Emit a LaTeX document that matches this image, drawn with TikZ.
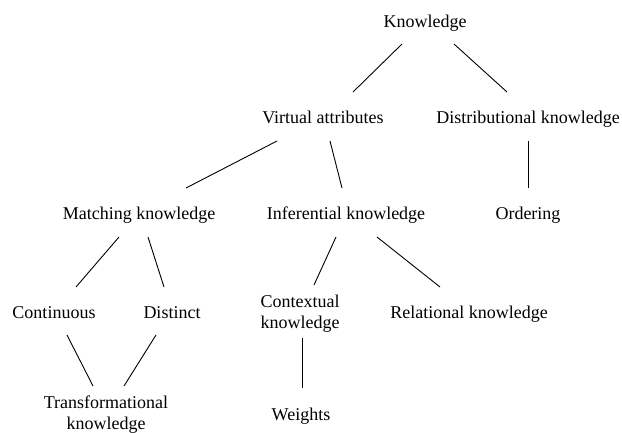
\documentclass[tikz,border=0pt]{standalone}
\usepackage{fontspec}
\setmainfont{Liberation Serif}
\begin{document}
\begin{tikzpicture}[x=1pt,y=-1pt,
  concept/.style={inner sep=0pt,anchor=base,align=center,
    font=\fontsize{18}{20.5}\selectfont},
  link/.style={line width=0.9pt,draw=black}]
\useasboundingbox[fill=white] (0,0) rectangle (622,432);

% concept nodes, placed by the baseline of their last line
\node[concept] (k)   at (425,27)  {Knowledge};
\node[concept] (v)   at (323,123) {Virtual attributes};
\node[concept] (d)   at (528,123) {Distributional knowledge};
\node[concept] (m)   at (139,219) {Matching knowledge};
\node[concept] (i)   at (346,219) {Inferential knowledge};
\node[concept] (o)   at (528,219) {Ordering};
\node[concept] (c1)  at (54,318)  {Continuous};
\node[concept] (c2)  at (172,318) {Distinct};
\node[concept] (ctx) at (300,328) {Contextual\\knowledge};
\node[concept] (rel) at (469,318) {Relational knowledge};
\node[concept] (tr)  at (106,429) {Transformational\\knowledge};
\node[concept] (w)   at (301,420) {Weights};

% tree links
\draw[link] ([shift={(-23,17)}]k.base) -- ([shift={(30,-31)}]v.base);
\draw[link] ([shift={(29,17)}]k.base) -- ([shift={(-21,-31)}]d.base);
\draw[link] ([shift={(-46,18)}]v.base) -- ([shift={(47,-31)}]m.base);
\draw[link] ([shift={(7,18)}]v.base) -- ([shift={(-4,-31)}]i.base);
\draw[link] ([shift={(0,18)}]d.base) -- ([shift={(0,-31)}]o.base);
\draw[link] ([shift={(-20,18)}]m.base) -- ([shift={(22,-31)}]c1.base);
\draw[link] ([shift={(9,18)}]m.base) -- ([shift={(-8,-31)}]c2.base);
\draw[link] ([shift={(-10,18)}]i.base) -- ([shift={(14,-43)}]ctx.base);
\draw[link] ([shift={(31,18)}]i.base) -- ([shift={(-29,-31)}]rel.base);
\draw[link] ([shift={(13,17)}]c1.base) -- ([shift={(-13,-43)}]tr.base);
\draw[link] ([shift={(-16,17)}]c2.base) -- ([shift={(18,-43)}]tr.base);
\draw[link] ([shift={(2,10)}]ctx.base) -- ([shift={(1,-32)}]w.base);
\end{tikzpicture}
\end{document}
